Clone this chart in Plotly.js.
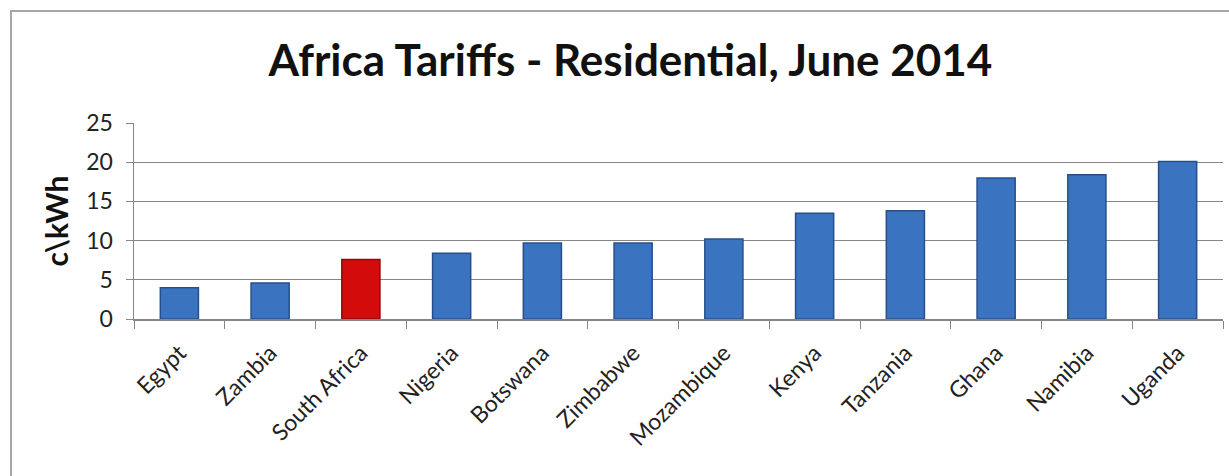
<!DOCTYPE html>
<html>
<head>
<meta charset="utf-8">
<script src="https://cdn.plot.ly/plotly-3.0.1.min.js"></script>
<style>
  html, body { margin: 0; padding: 0; background: #ffffff; }
  #chart { position: absolute; left: 0; top: 0; width: 1229px; height: 476px; }
  #frame { position: absolute; left: 10px; top: 10px; width: 1240px; height: 480px;
           border-left: 2px solid #a6a6a6; border-top: 2px solid #a6a6a6; pointer-events: none; }
</style>
</head>
<body>
<div id="chart"></div>
<div id="frame"></div>
<script>
const countries = ["Egypt", "Zambia", "South Africa", "Nigeria", "Botswana", "Zimbabwe",
                   "Mozambique", "Kenya", "Tanzania", "Ghana", "Namibia", "Uganda"];
const tariffs = [4.0, 4.6, 7.6, 8.4, 9.7, 9.7, 10.2, 13.5, 13.8, 18.0, 18.4, 20.1];
const highlight = "South Africa";
const yTicks = [0, 5, 10, 15, 20, 25];

const blue = "#3a74c0";
const red = "#d40b0b";
const colors = countries.map(c => c === highlight ? red : blue);
const lineColors = countries.map(c => c === highlight ? "#8f0a0a" : "#264f8a");

const font = "Lato, 'Open Sans', sans-serif";

const trace = {
  type: "bar",
  x: countries,
  y: tariffs,
  marker: { color: colors, line: { color: lineColors, width: 1.5 } },
  width: 0.42,
  hoverinfo: "x+y"
};

const layout = {
  width: 1229,
  height: 476,
  margin: { l: 134, r: 6, t: 123, b: 157 },
  paper_bgcolor: "#ffffff",
  plot_bgcolor: "#ffffff",
  showlegend: false,
  font: { family: font, color: "#222222", size: 20 },
  title: {
    text: "<b>Africa Tariffs - Residential, June 2014</b>",
    font: { family: font, size: 44, color: "#111111" },
    x: 0.513, xanchor: "center",
    y: 0.872, yanchor: "middle"
  },
  xaxis: {
    type: "category",
    tickangle: -45,
    tickson: "boundaries",
    ticks: "outside",
    ticklen: 8,
    tickcolor: "#868686",
    showline: true,
    linecolor: "#868686",
    linewidth: 1.5,
    showgrid: false,
    tickfont: { family: font, size: 23, color: "#222222" },
    ticklabelstandoff: 10,
    range: [-0.5, countries.length - 0.5],
    fixedrange: true
  },
  yaxis: {
    range: [0, 25],
    tickvals: yTicks,
    ticktext: yTicks.map(String),
    ticks: "outside",
    ticklen: 7,
    tickcolor: "#868686",
    showline: true,
    linecolor: "#868686",
    linewidth: 1.5,
    showgrid: true,
    gridcolor: "#868686",
    gridwidth: 1.3,
    zeroline: false,
    tickfont: { family: font, size: 23, color: "#222222" },
    ticklabelstandoff: 8,
    title: { text: "<b>c\\kWh</b>", font: { family: font, size: 30, color: "#111111" }, standoff: 8 },
    fixedrange: true
  }
};

Plotly.newPlot("chart", [trace], layout, { displayModeBar: false, staticPlot: true });
</script>
</body>
</html>
